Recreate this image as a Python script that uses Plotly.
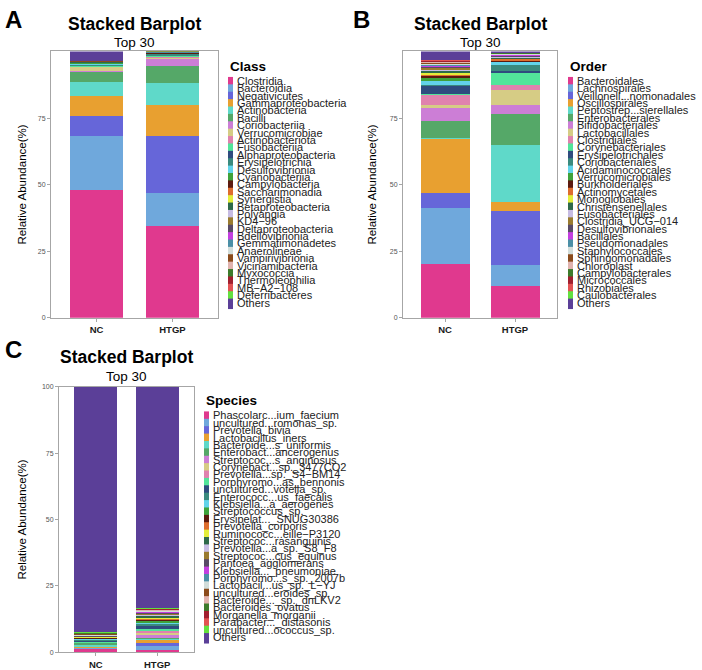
import plotly.graph_objects as go

W, H = 702, 670
FONT = "Liberation Sans"

groups = ["NC", "HTGP"]

palette = [
    "#E0398E", "#6FA8DC", "#6666D9", "#E8A030", "#5FD9C9", "#55A868",
    "#CC7ED6", "#D6CC85", "#E082AE", "#52E59A", "#2F4C7E", "#3A8A7E",
    "#62D4EA", "#3FA33B", "#5C1A0F", "#DE6D2E", "#E3EE3B", "#2E6A4A",
    "#C7BCE3", "#9A7B2F", "#584A66", "#C43FE0", "#4B8FA6", "#D2DDDA",
    "#8B4B1B", "#E0B3AE", "#3D7B2B", "#A11F2E", "#E25353", "#63E03F",
    "#5B3F98",
]

class_names = [
    "Clostridia", "Bacteroidia", "Negativicutes", "Gammaproteobacteria",
    "Actinobacteria", "Bacilli", "Coriobacteriia", "Verrucomicrobiae",
    "Actinobacteriota", "Fusobacteriia", "Alphaproteobacteria",
    "Erysipelotrichia", "Desulfovibrionia", "Cyanobacteriia",
    "Campylobacteria", "Saccharimonadia", "Synergistia",
    "Betaproteobacteria", "Polyangia", "KD4\u221296", "Deltaproteobacteria",
    "Bdellovibrionia", "Gemmatimonadetes", "Anaerolineae",
    "Vampirivibrionia", "Vicinamibacteria", "Myxococcia", "Thermoleophilia",
    "MB\u2212A2\u2212108", "Deferribacteres", "Others",
]
class_nc = [48.0, 20.4, 7.4, 7.5, 5.3, 3.6, 0.6, 1.2, 0.3, 0.2, 0.2, 0.4,
            0.2, 0.2, 0.1, 0.1, 0.1, 0.1, 0.05, 0.05, 0.05, 0.05, 0.05, 0.05,
            0.05, 0.05, 0.05, 0.05, 0.05, 0.05, 3.8]
class_htgp = [34.5, 12.3, 21.6, 11.6, 8.1, 6.3, 2.8, 0.3, 0.4, 0.3, 0.1, 0.6,
              0.2, 0.1, 0.05, 0.05, 0.05, 0.05, 0.05, 0.05, 0.05, 0.05, 0.05,
              0.05, 0.05, 0.05, 0.05, 0.05, 0.05, 0.05, 0.3]

order_names = [
    "Bacteroidales", "Lachnospirales", "Veillonell...nomonadales",
    "Oscillospirales", "Peptostrep...sierellales", "Enterobacterales",
    "Bifidobacteriales", "Lactobacillales", "Clostridiales",
    "Corynebacteriales", "Erysipelotrichales", "Coriobacteriales",
    "Acidaminococcales", "Verrucomicrobiales", "Burkholderiales",
    "Actinomycetales", "Monoglobales", "Christensenellales",
    "Fusobacteriales", "Clostridia_UCG\u2212014", "Desulfovibrionales",
    "Bacillales", "Pseudomonadales", "Staphylococcales", "Sphingomonadales",
    "Chloroplast", "Campylobacterales", "Micrococcales", "Rhizobiales",
    "Caulobacterales", "Others",
]
order_nc = [20.0, 21.1, 5.8, 20.2, 0.3, 6.6, 4.8, 1.0, 4.0, 0.2, 3.0, 0.3,
            1.7, 1.1, 0.8, 0.4, 0.8, 0.6, 0.3, 0.7, 0.6, 0.3, 0.3, 0.3, 0.3,
            0.4, 0.3, 0.3, 0.2, 0.2, 3.4]
order_htgp = [11.9, 7.8, 20.4, 3.4, 21.5, 11.7, 3.1, 5.6, 2.1, 4.4, 0.8, 2.1,
              1.1, 0.2, 0.2, 0.7, 0.2, 0.3, 0.3, 0.2, 0.3, 0.2, 0.2, 0.2, 0.2,
              0.1, 0.1, 0.1, 0.1, 0.1, 0.8]

species_names = [
    "Phascolarc...ium_faecium", "uncultured...romonas_sp.",
    "Prevotella_bivia", "Lactobacillus_iners", "Bacteroide...s_uniformis",
    "Enterobact...ancerogenus", "Streptococ...s_anginosus",
    "Corynebact...sp._3477CO2", "Prevotella...sp._S4\u2212BM14",
    "Porphyromo...as_bennonis", "uncultured...votella_sp.",
    "Enterococc...us_faecalis", "Klebsiella...a_aerogenes",
    "Streptococcus_sp.", "Erysipelat..._SNUG30386", "Prevotella_corporis",
    "Ruminococc...eille\u2212P3120", "Streptococ...rasanguinis",
    "Prevotella...a_sp._S8_F8", "Streptococ...cus_equinus",
    "Pantoea_agglomerans", "Klebsiella..._pneumoniae",
    "Porphyromo...s_sp._2007b", "Lactobacil...us_sp._L\u2212YJ",
    "uncultured...eroides_sp.", "Bacteroide..._sp._dnLKV2",
    "Bacteroides_ovatus", "Morganella_morganii", "Parabacter..._distasonis",
    "uncultured...ococcus_sp.", "Others",
]
species_nc = [1.4, 0.4, 0.1, 0.1, 0.8, 0.7, 0.1, 0.1, 0.1, 0.4, 0.3, 0.3, 0.3,
              0.2, 0.3, 0.1, 0.1, 0.1, 0.1, 0.1, 0.1, 0.1, 0.1, 0.1, 0.5, 0.2,
              0.1, 0.1, 0.1, 0.1, 92.4]
species_htgp = [1.0, 1.3, 1.0, 1.6, 0.2, 0.3, 0.9, 1.0, 1.0, 0.6, 1.0, 0.8,
                0.3, 0.8, 0.6, 0.4, 0.4, 0.6, 0.4, 0.5, 0.4, 0.1, 0.3, 0.3,
                0.1, 0.1, 0.2, 0.1, 0.1, 0.1, 83.4]

y_ticks_ab = [0, 25, 50, 75]
y_ticks_c = [0, 25, 50, 75, 100]


def fx(p):
    return min(max(p / W, 0.0), 1.0)


def fy(p):
    return min(max(1 - p / H, 0.0), 1.0)


panels = [
    dict(letter="A", lxy=(3, 0), names=class_names, nc=class_nc, ht=class_htgp,
         ltitle="Class", box=(51, 218, 48, 317), leg=(228, 79, 303),
         ltitle_y=63, title_y=(20, 39), ylab_x=22, ticks=y_ticks_ab),
    dict(letter="B", lxy=(351, 0), names=order_names, nc=order_nc,
         ht=order_htgp, ltitle="Order", box=(403, 557, 48, 317),
         leg=(568, 79, 303), ltitle_y=63, title_y=(20, 39), ylab_x=372,
         ticks=y_ticks_ab),
    dict(letter="C", lxy=(3, 333), names=species_names, nc=species_nc,
         ht=species_htgp, ltitle="Species", box=(59, 194, 387, 655),
         leg=(204, 417, 641), ltitle_y=401, title_y=(357, 376), ylab_x=22,
         ticks=y_ticks_c),
]

fig = go.Figure()
annotations = []
layout_axes = {}

for k, p in enumerate(panels, start=1):
    xa = "x" if k == 1 else f"x{k}"
    ya = "y" if k == 1 else f"y{k}"
    x0, x1, y0, y1 = p["box"]
    for j, name in enumerate(p["names"]):
        fig.add_trace(go.Bar(
            x=groups, y=[p["nc"][j], p["ht"][j]], name=name,
            marker=dict(color=palette[j], line=dict(width=0)),
            width=0.7, xaxis=xa, yaxis=ya, showlegend=False,
        ))
    suffix = "" if k == 1 else str(k)
    layout_axes["xaxis" + suffix] = dict(
        domain=[fx(x0), fx(x1)], anchor=ya, type="category",
        range=[-0.6, 1.6], showline=True, mirror=True, linecolor="#a6a6a6",
        linewidth=1, ticks="outside", ticklen=3, tickcolor="#a6a6a6",
        tickfont=dict(size=9.5, color="#1a1a1a", family=FONT, weight="bold"),
        showgrid=False, zeroline=False, fixedrange=True,
    )
    layout_axes["yaxis" + suffix] = dict(
        domain=[fy(y1), fy(y0)], anchor=xa, range=[0, 100],
        tickvals=p["ticks"], showline=True, mirror=True,
        linecolor="#a6a6a6", linewidth=1, ticks="outside", ticklen=3,
        tickcolor="#a6a6a6", tickfont=dict(size=7, color="#555555",
                                           family=FONT),
        showgrid=False, zeroline=False, fixedrange=True,
    )

    # legend keys and labels on their own hidden axes
    lk = k + 3
    lxa, lya = f"x{lk}", f"y{lk}"
    lx, ly0, ly1 = p["leg"]
    n = len(p["names"])
    step = (ly1 - ly0) / (n - 1)
    lw = min(lx + 130, W) - lx
    layout_axes[f"xaxis{lk}"] = dict(
        domain=[fx(lx), fx(lx + lw)], range=[0, lw], visible=False,
        fixedrange=True, anchor=lya)
    layout_axes[f"yaxis{lk}"] = dict(
        domain=[fy(ly1 + step / 2), fy(ly0 - step / 2)],
        range=[n - 0.5, -0.5], visible=False, fixedrange=True, anchor=lxa)
    idx = list(range(n))
    fig.add_trace(go.Scatter(
        x=[2.5] * n, y=idx, mode="markers", xaxis=lxa, yaxis=lya,
        marker=dict(symbol="line-ns", size=step, color=palette[:n],
                    line=dict(width=5, color=palette[:n])),
        showlegend=False, hoverinfo="skip", cliponaxis=False,
    ))
    fig.add_trace(go.Scatter(
        x=[9] * n, y=idx, mode="text", text=p["names"],
        textposition="middle right", xaxis=lxa, yaxis=lya,
        textfont=dict(size=11, color="#222222", family=FONT),
        showlegend=False, hoverinfo="skip", cliponaxis=False,
    ))

    cx = (x0 + x1) / 2
    annotations += [
        dict(text=f"<b>{p['letter']}</b>", x=fx(p["lxy"][0]),
             y=fy(p["lxy"][1]), xref="paper", yref="paper",
             xanchor="left", yanchor="top", showarrow=False,
             font=dict(size=24, color="black", family=FONT)),
        dict(text="<b>Stacked Barplot</b>", x=fx(cx), y=fy(p["title_y"][0]),
             xref="paper", yref="paper", xanchor="center", yanchor="middle",
             showarrow=False, font=dict(size=17.5, color="black",
                                        family=FONT)),
        dict(text="Top 30", x=fx(cx), y=fy(p["title_y"][1]),
             xref="paper", yref="paper", xanchor="center", yanchor="middle",
             showarrow=False, font=dict(size=13.5, color="black",
                                        family=FONT)),
        dict(text="Relative Abundance(%)", x=fx(p["ylab_x"]),
             y=fy((y0 + y1) / 2), xref="paper", yref="paper",
             xanchor="center", yanchor="middle", textangle=-90,
             showarrow=False, font=dict(size=11.5, color="black",
                                        family=FONT)),
        dict(text=f"<b>{p['ltitle']}</b>", x=fx(lx), y=fy(p["ltitle_y"]),
             xref="paper", yref="paper", xanchor="left", yanchor="middle",
             showarrow=False, font=dict(size=13.5, color="black",
                                        family=FONT)),
    ]

fig.update_layout(
    width=W, height=H, margin=dict(l=0, r=0, t=0, b=0),
    barmode="stack", showlegend=False, paper_bgcolor="white",
    plot_bgcolor="white", font=dict(family=FONT),
    annotations=annotations, **layout_axes,
)

fig.write_html("out.html")
